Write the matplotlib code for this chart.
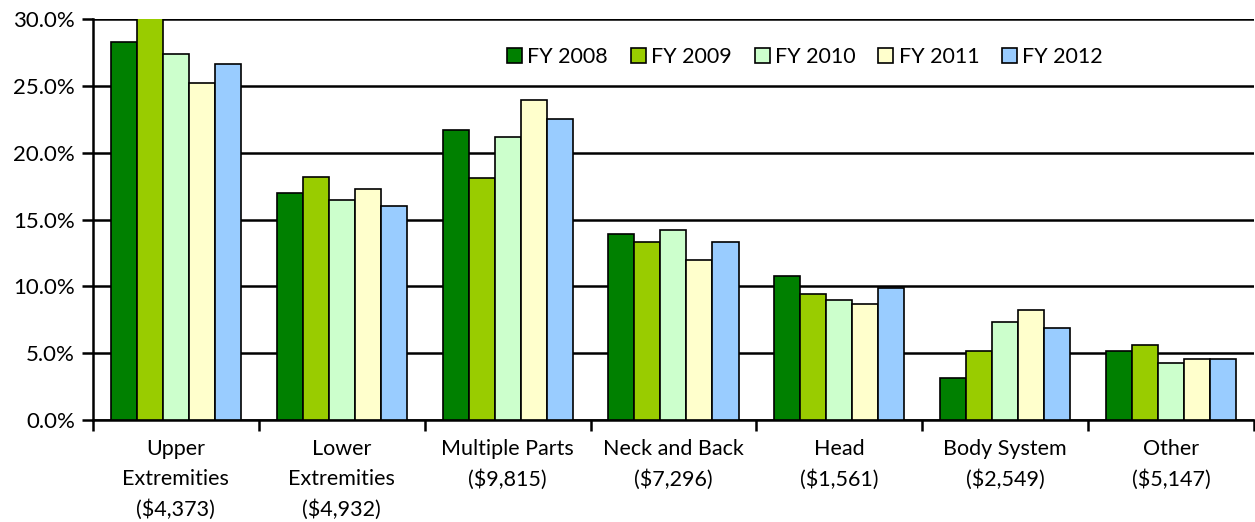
import matplotlib.pyplot as plt
import numpy as np
from matplotlib.ticker import FuncFormatter

plt.rcParams['font.family'] = ['Lato', 'DejaVu Sans']

categories = ['Upper\nExtremities\n($4,373)', 'Lower\nExtremities\n($4,932)',
              'Multiple Parts\n($9,815)', 'Neck and Back\n($7,296)',
              'Head\n($1,561)', 'Body System\n($2,549)', 'Other\n($5,147)']
years = ['FY 2008', 'FY 2009', 'FY 2010', 'FY 2011', 'FY 2012']
fy2008 = [28.25, 16.95, 21.7, 13.9, 10.75, 3.12, 5.2]
fy2009 = [30.2, 18.15, 18.1, 13.35, 9.4, 5.2, 5.6]
fy2010 = [27.4, 16.5, 21.2, 14.25, 8.95, 7.3, 4.3]
fy2011 = [25.2, 17.3, 23.95, 12.0, 8.7, 8.2, 4.55]
fy2012 = [26.65, 16.0, 22.55, 13.3, 9.9, 6.9, 4.6]
colors = ['#008000', '#99cc00', '#ccffcc', '#ffffcc', '#99ccff']

series = [fy2008, fy2009, fy2010, fy2011, fy2012]

fig = plt.figure(figsize=(12.55, 5.22), dpi=100)
ax = fig.add_axes([0.0741, 0.1954, 0.925, 0.768])

x = np.arange(len(categories))
w = 0.157
for i, vals in enumerate(series):
    ax.bar(x + (i - 2) * w, vals, w, color=colors[i], edgecolor='black',
           linewidth=1.2, label=years[i], zorder=3)

ax.set_xlim(-0.5, len(categories) - 0.5)
ax.set_ylim(0, 30)
ax.set_yticks(np.arange(0, 31, 5))
ax.yaxis.set_major_formatter(FuncFormatter(lambda v, p: '%.1f%%' % v))
ax.grid(axis='y', color='black', linewidth=1.8, zorder=0)

ax.set_xticks(np.arange(-0.5, len(categories)))
ax.set_xticklabels([])
ax.set_xticks(x, minor=True)
ax.set_xticklabels(categories, minor=True, fontsize=15.5, linespacing=1.6)
ax.tick_params(axis='x', which='minor', length=0, pad=14)
ax.tick_params(axis='x', which='major', length=8, width=1.8, direction='out')
ax.tick_params(axis='y', length=8, width=1.8, labelsize=16, pad=5)

for s in ['top', 'right']:
    ax.spines[s].set_visible(False)
for s in ['left', 'bottom']:
    ax.spines[s].set_linewidth(1.8)

fig.legend(loc='center', bbox_to_anchor=(805 / 1255, 1 - 57 / 522), ncol=5,
           frameon=False, fontsize=15.5, handlelength=0.7, handleheight=0.7,
           handletextpad=0.25, columnspacing=1.05)

fig.savefig('out.png', dpi=100)
